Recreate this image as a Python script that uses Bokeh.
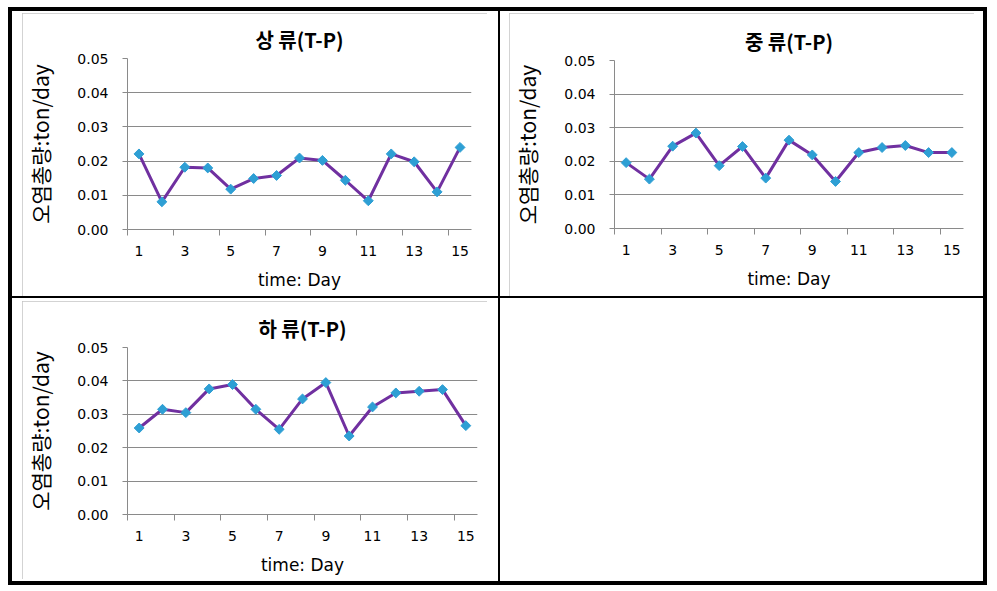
import math
from bokeh.plotting import figure
from bokeh.models import Range1d, FixedTicker, PrintfTickFormatter, Div
from bokeh.layouts import column, row
from bokeh.embed import file_html
from bokeh.resources import INLINE

# ---- data ----
days = list(range(1, 16))
upstream = [0.0221, 0.0081, 0.0182, 0.0180, 0.0118, 0.0149, 0.0158, 0.0209,
            0.0202, 0.0144, 0.0084, 0.0221, 0.0198, 0.0110, 0.0240]
midstream = [0.0196, 0.0147, 0.0245, 0.0284, 0.0187, 0.0244, 0.0150, 0.0263,
             0.0219, 0.0140, 0.0226, 0.0241, 0.0247, 0.0226, 0.0226]
downstream = [0.0259, 0.0315, 0.0305, 0.0376, 0.0389, 0.0315, 0.0255, 0.0346,
              0.0395, 0.0235, 0.0322, 0.0364, 0.0369, 0.0374, 0.0266]
titles = ["상 류(T-P)", "중 류(T-P)", "하 류(T-P)"]
x_tick_values = [1, 3, 5, 7, 9, 11, 13, 15]
x_tick_labels = ["1", "3", "5", "7", "9", "11", "13", "15"]
x_boundaries = [0.5, 2.5, 4.5, 6.5, 8.5, 10.5, 12.5, 14.5]
y_tick_values = [0.0, 0.01, 0.02, 0.03, 0.04, 0.05]
x_label = "time: Day"
y_label = "오염총량:ton/day"

LINE = "#7030A0"
MARK = "#2E9FD4"
GRID = "#8A8A8A"
LATIN = "DejaVu Sans"
KR = "Noto Sans CJK KR"


def make_panel(title, values, w, h, bl, br, bt, bb):
    p = figure(width=w, height=h, output_backend="svg", toolbar_location=None,
               x_range=Range1d(0.5, 15.5), y_range=Range1d(0, 0.05),
               min_border_left=bl, min_border_right=br,
               min_border_top=bt, min_border_bottom=bb,
               background_fill_color="white", border_fill_color="white",
               outline_line_color=None, title=title,
               styles={"outline": "1px solid #C4C4C4", "outline-offset": "-1px"})
    p.title.align = "center"
    p.title.offset = 6
    p.title.text_font = KR
    p.title.text_font_size = "20px"
    p.title.text_font_style = "bold"
    p.title.text_color = "black"
    p.title.standoff = 10

    # x axis
    xa = p.xaxis[0]
    xa.ticker = FixedTicker(ticks=x_tick_values, minor_ticks=x_boundaries)
    xa.major_label_overrides = dict(zip(x_tick_values, x_tick_labels))
    xa.major_tick_line_color = None
    xa.minor_tick_line_color = GRID
    xa.minor_tick_in = 0
    xa.minor_tick_out = 6
    xa.axis_line_color = GRID
    xa.major_label_standoff = 10
    xa.major_label_text_font = LATIN
    xa.major_label_text_font_size = "14px"
    xa.major_label_text_color = "black"
    xa.axis_label = x_label
    xa.axis_label_text_font = LATIN
    xa.axis_label_text_font_size = "17px"
    xa.axis_label_text_font_style = "normal"
    xa.axis_label_text_color = "black"
    xa.axis_label_standoff = 11

    # y axis
    ya = p.yaxis[0]
    ya.ticker = FixedTicker(ticks=y_tick_values)
    ya.formatter = PrintfTickFormatter(format="%.2f")
    ya.major_tick_line_color = GRID
    ya.major_tick_in = 0
    ya.major_tick_out = 5
    ya.minor_tick_line_color = None
    ya.axis_line_color = GRID
    ya.major_label_standoff = 14
    ya.major_label_text_font = LATIN
    ya.major_label_text_font_size = "14px"
    ya.major_label_text_color = "black"
    ya.axis_label = y_label
    ya.axis_label_text_font = KR
    ya.axis_label_text_font_size = "21px"
    ya.axis_label_text_font_style = "normal"
    ya.axis_label_text_color = "black"
    ya.axis_label_standoff = 19

    p.xgrid.grid_line_color = None
    p.ygrid.grid_line_color = GRID
    p.ygrid.grid_line_width = 1

    p.line(days, values, line_color=LINE, line_width=3)
    p.scatter(days, values, marker="square", size=7, angle=math.pi / 4,
              fill_color=MARK, line_color=MARK)
    return p


p1 = make_panel(titles[0], upstream, 465, 283, 104, 16, 45, 67)
p2 = make_panel(titles[1], midstream, 465, 283, 104, 11, 47, 68)
p3 = make_panel(titles[2], downstream, 465, 278, 105, 10, 46, 65)

p1.margin = (2, 11, 0, 10)
p2.margin = (2, 9, 0, 9)
p3.margin = (3, 11, 2, 10)

white = {"background-color": "white"}
c1 = column(p1, styles=white)
c2 = column(p2, styles=white)
c3 = column(p3, styles=white)
c4 = Div(text="", width=483, height=283, margin=0, styles=white)

r1 = row(c1, c2, spacing=2)
r2 = row(c3, c4, spacing=2)
root = column(r1, r2, spacing=2,
              styles={"background-color": "black", "padding": "4px"},
              margin=(7, 0, 0, 8))

open("out.html", "w").write(file_html(root, INLINE))
